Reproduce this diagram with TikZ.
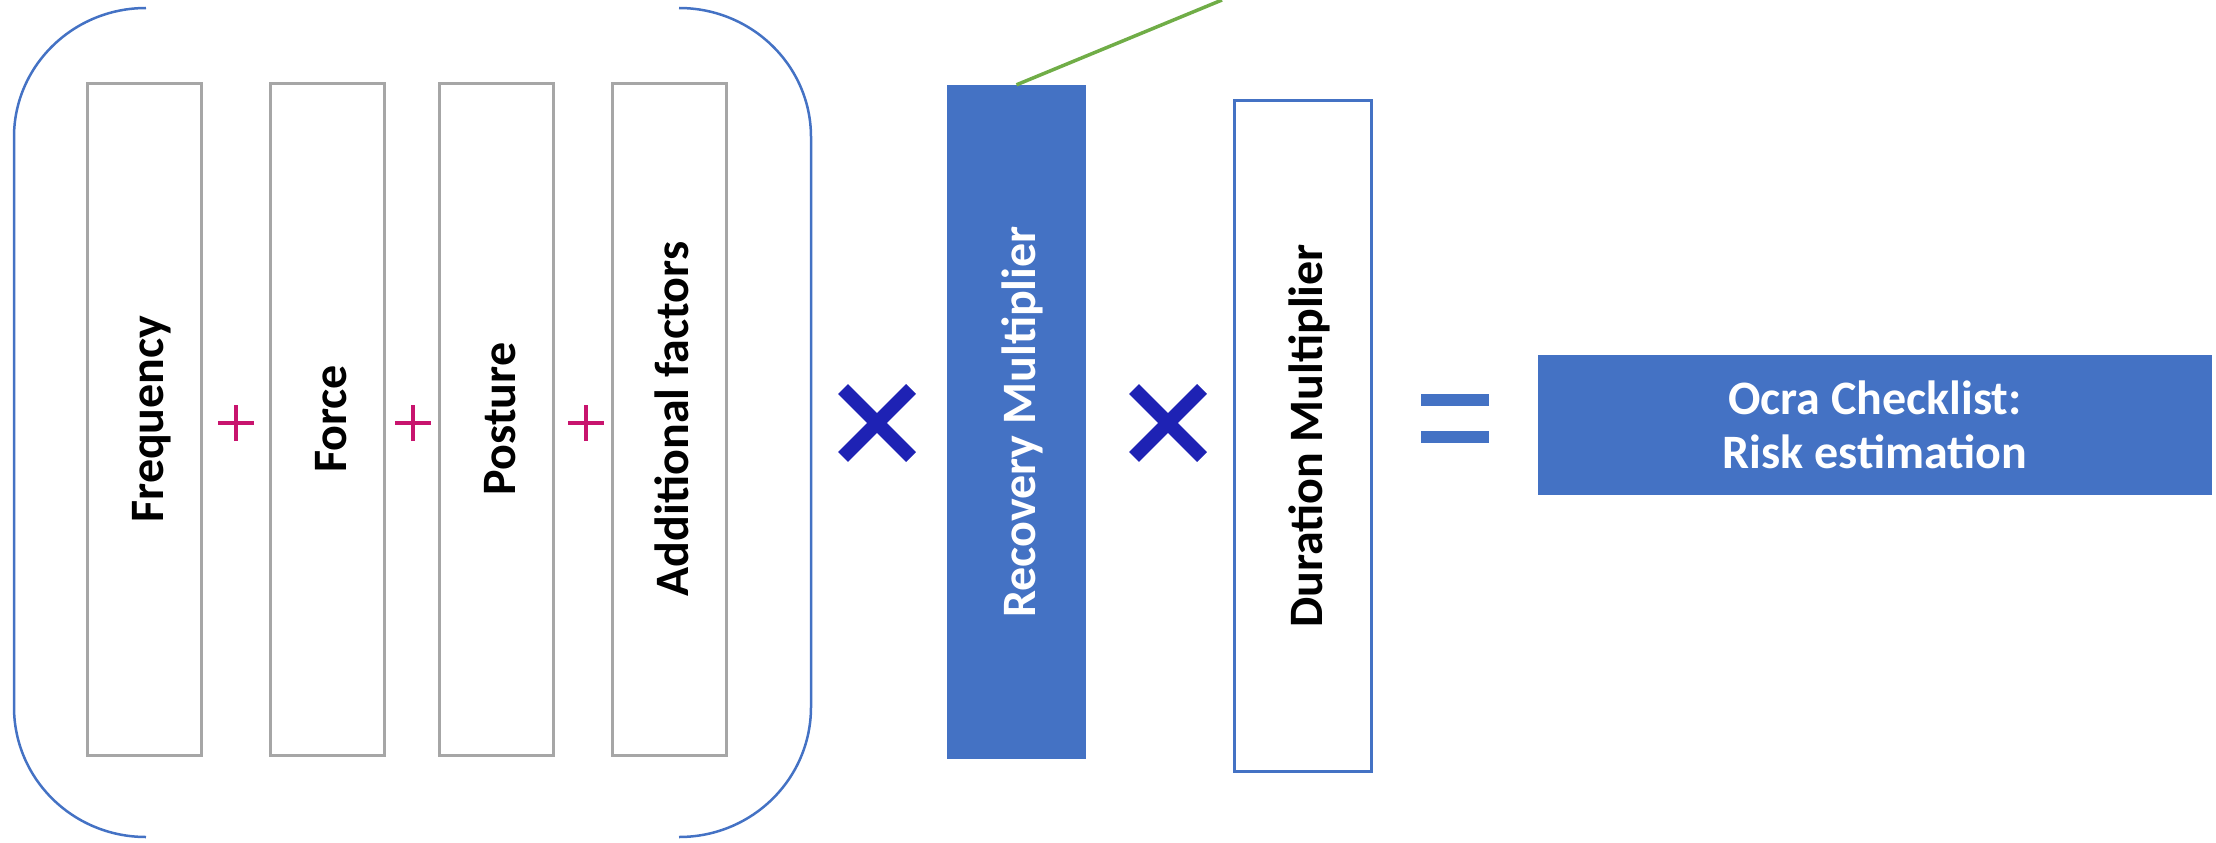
\documentclass[tikz,border=0pt]{standalone}
\usepackage{fontspec}
\setmainfont{Carlito}
\definecolor{acc}{HTML}{4472C4}
\definecolor{boxgray}{HTML}{A6A6A6}
\definecolor{plusc}{RGB}{200,20,110}
\definecolor{timesc}{RGB}{30,34,180}
\definecolor{greenl}{HTML}{70AD47}
\begin{document}
\begin{tikzpicture}[x=1pt,y=-1pt,
  factor/.style={draw=boxgray, line width=3pt, minimum width=114pt, minimum height=672pt, inner sep=0pt},
  recbox/.style={fill=acc, draw=none, minimum width=139pt, minimum height=674pt, inner sep=0pt},
  durbox/.style={draw=acc, line width=3pt, fill=white, minimum width=137pt, minimum height=671pt, inner sep=0pt},
  ocrabox/.style={fill=acc, draw=none, minimum width=674pt, minimum height=140pt, inner sep=0pt,
     text=white, align=center, font=\fontsize{48}{54}\selectfont\bfseries},
  lbl/.style={rotate=90, anchor=base, font=\fontsize{48}{54}\selectfont\bfseries, inner sep=0pt},
  brack/.style={draw=acc, line width=2.5pt},
  plussign/.style={draw=plusc, line width=4.5pt},
  timessign/.style={draw=timesc, line width=14pt},
]
\useasboundingbox (0,0) rectangle (2216,843);

% brackets
\draw[brack] (146,8) .. controls (73,8) and (14,66) .. (14,137) -- (14,707) .. controls (14,779) and (73,837) .. (146,837);
\draw[brack] (679,8) .. controls (752,8) and (811,66) .. (811,137) -- (811,707) .. controls (811,779) and (752,837) .. (679,837);

% factor boxes
\node[factor] (freq) at (144,419) {};
\node[factor] (force) at (327,419) {};
\node[factor] (posture) at (496,419) {};
\node[factor] (addf) at (669,419) {};
\node[lbl] (freqlbl) at ([xshift=19pt]freq.center) {Frequency};
\node[lbl] (forcelbl) at ([xshift=19pt]force.center) {Force};
\node[lbl] (posturelbl) at ([xshift=19pt]posture.center) {Posture};
\node[lbl] (addflbl) at ([xshift=19pt]addf.center) {Additional factors};

% multipliers
\node[recbox] (rec) at (1016.5,422) {};
\node[lbl, text=white] (reclbl) at ([xshift=19pt]rec.center) {Recovery Multiplier};
\node[durbox] (dur) at (1303,436) {};
\node[lbl] (durlbl) at ([xshift=19pt]dur.center) {Duration Multiplier};

% result
\node[ocrabox] (ocra) at (1875,425) {Ocra Checklist:\\Risk estimation};

% green line
\coordinate (gend) at (1222,0);
\draw[greenl, line width=3.5pt] (rec.north) -- (gend);

% plus signs
\foreach \n/\px in {p1/236, p2/413, p3/586}{
  \coordinate (\n) at (\px,423);
  \draw[plussign] ([xshift=-18pt]\n) -- ([xshift=18pt]\n);
  \draw[plussign] ([yshift=-18pt]\n) -- ([yshift=18pt]\n);
}

% times signs
\foreach \n/\px in {m1/877, m2/1168}{
  \coordinate (\n) at (\px,423);
  \draw[timessign] ([shift={(-34,-34)}]\n) -- ([shift={(34,34)}]\n);
  \draw[timessign] ([shift={(-34,34)}]\n) -- ([shift={(34,-34)}]\n);
}

% equals sign
\fill[acc] (1421,394) rectangle (1489,406);
\fill[acc] (1421,431) rectangle (1489,443);
\end{tikzpicture}
\end{document}
